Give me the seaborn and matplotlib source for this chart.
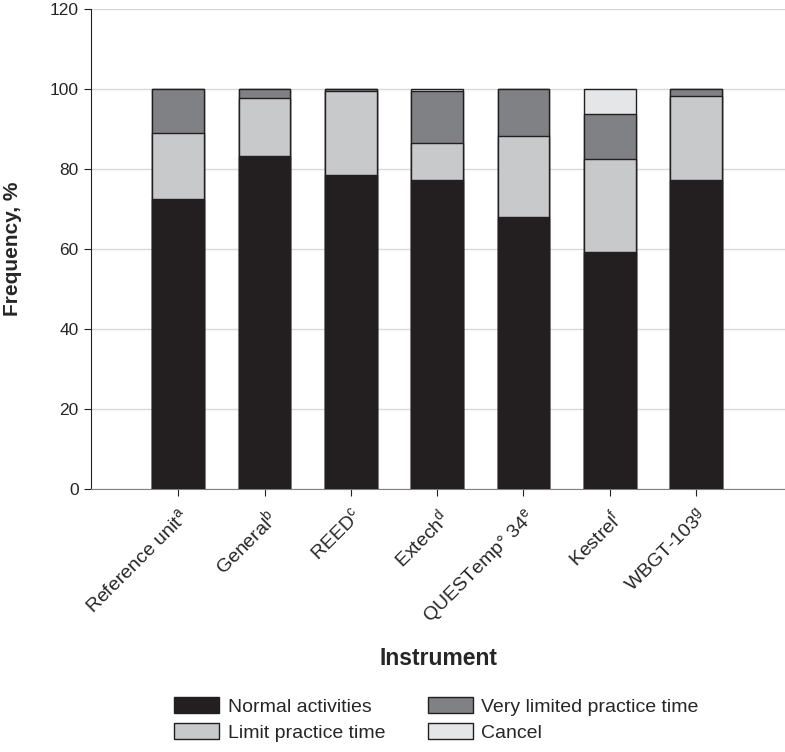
import matplotlib
matplotlib.use("Agg")
import matplotlib.pyplot as plt
import matplotlib.patches as mpatches
import numpy as np
import pandas as pd
import seaborn as sns

instruments = [
    r"Reference unit$^{\mathrm{a}}$",
    r"General$^{\mathrm{b}}$",
    r"REED$^{\mathrm{c}}$",
    r"Extech$^{\mathrm{d}}$",
    r"QUESTemp$\degree$ 34$^{\mathrm{e}}$",
    r"Kestrel$^{\mathrm{f}}$",
    r"WBGT-103$^{\mathrm{g}}$",
]
normal = [72.5, 83.2, 78.5, 77.3, 68.0, 59.2, 77.3]
limit = [16.5, 14.5, 21.0, 9.3, 20.3, 23.2, 21.0]
very_limited = [11.0, 2.3, 0.5, 12.9, 11.7, 11.3, 1.7]
cancel = [0.0, 0.0, 0.0, 0.5, 0.0, 6.3, 0.0]

categories = ["Normal activities", "Limit practice time", "Very limited practice time", "Cancel"]
colors = ["#231f20", "#c8c9cb", "#808184", "#e5e6e7"]

sns.set_style("white")
plt.rcParams["font.family"] = ["Liberation Sans", "DejaVu Sans"]
plt.rcParams["mathtext.fontset"] = "custom"
plt.rcParams["mathtext.rm"] = "Liberation Sans"
plt.rcParams["mathtext.it"] = "Liberation Sans:italic"

df = pd.DataFrame({"instrument": instruments, "Normal activities": normal,
                   "Limit practice time": limit, "Very limited practice time": very_limited,
                   "Cancel": cancel})
cum = df[categories].cumsum(axis=1)

fig = plt.figure(figsize=(7.85, 7.52), dpi=100)
ax = fig.add_axes([0.116, 0.35, 0.884, 0.638])

# draw from the top layer down so the lower layers sit on top
for cat, col in reversed(list(zip(categories, colors))):
    plot = pd.DataFrame({"instrument": instruments, "value": cum[cat]})
    sns.barplot(data=plot, x="instrument", y="value", color=col, width=0.6,
                edgecolor="#231f20", linewidth=1.0, saturation=1, ax=ax, zorder=3)

ax.set_ylim(0, 120)
ax.set_xlim(-1.01, 7.03)
ax.set_yticks(np.arange(0, 121, 20))
ax.yaxis.grid(True, color="#d9d9d9", linewidth=1, zorder=0)
ax.set_axisbelow(True)
for s in ["top", "right"]:
    ax.spines[s].set_visible(False)
ax.spines["left"].set_color("#231f20")
ax.spines["bottom"].set_color("#808184")
ax.tick_params(axis="y", length=5, color="#231f20", labelsize=12.5, direction="out", left=True, pad=4)
ax.tick_params(axis="x", length=5, color="#231f20", labelsize=14, direction="out", bottom=True, pad=7)
plt.setp(ax.get_xticklabels(), rotation=45, ha="right", rotation_mode="anchor")

ax.set_xlabel("Instrument", fontsize=16.5, fontweight="bold")
ax.xaxis.set_label_coords(0.5, -0.329)
ax.set_ylabel("Frequency, %", fontsize=15, fontweight="bold")
ax.yaxis.set_label_coords(-0.1, 0.5)

handles = [mpatches.Patch(facecolor=c, edgecolor="#231f20", label=l) for l, c in zip(categories, colors)]
fig.legend(handles=handles, loc="upper center", bbox_to_anchor=(0.556, 0.083), ncol=2,
           frameon=False, fontsize=14, handlelength=2.3, handleheight=0.85, handletextpad=0.45,
           columnspacing=2.2, labelspacing=0.38, borderaxespad=0)

fig.savefig("out.png", dpi=100)
